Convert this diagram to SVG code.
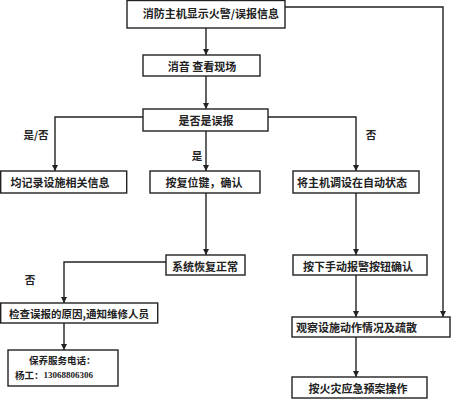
<svg xmlns="http://www.w3.org/2000/svg" width="452" height="400" viewBox="0 0 452 400">
<style>
rect.box{fill:#fff;stroke:#222;stroke-width:1.4}
text{font-family:"Noto Sans CJK SC","Liberation Sans",sans-serif;font-weight:bold;font-size:11px;fill:#222;dominant-baseline:central}
.c{text-anchor:middle}
.con path{fill:none;stroke:#222;stroke-width:1.4}
.lbl{font-size:10.5px}
</style>
<defs>
<marker id="ar" markerUnits="userSpaceOnUse" markerWidth="8" markerHeight="8" refX="6" refY="3" orient="auto">
<path d="M0,0 L6,3 L0,6 Z" fill="#222"/>
</marker>
</defs>
<rect width="452" height="400" fill="#fff"/>
<g class="con">
<path d="M206,28 V55" marker-end="url(#ar)"/>
<path d="M206,76 V109" marker-end="url(#ar)"/>
<path d="M206,131 V171" marker-end="url(#ar)"/>
<path d="M143,117 H55 V171" marker-end="url(#ar)"/>
<path d="M268,117 H356 V171" marker-end="url(#ar)"/>
<path d="M285,7 H443 V317" marker-end="url(#ar)"/>
<path d="M206,193 V255" marker-end="url(#ar)"/>
<path d="M356,193 V255" marker-end="url(#ar)"/>
<path d="M166,262 H64 V303" marker-end="url(#ar)"/>
<path d="M64,323 V350" marker-end="url(#ar)"/>
<path d="M356,275 V317" marker-end="url(#ar)"/>
<path d="M356,337 V377" marker-end="url(#ar)"/>
</g>
<g id="labels">
<text class="c lbl" x="36" y="134">是/否</text>
<text class="c lbl" x="371" y="134">否</text>
<text class="c lbl" x="197" y="155">是</text>
<text class="c lbl" x="30" y="279">否</text>
</g>
<g id="n1"><rect class="box" x="127" y="0.5" width="158" height="27.5"/><text class="c" x="211" y="13">消防主机显示火警/误报信息</text></g>
<g id="n2"><rect class="box" x="143" y="55" width="117" height="21"/><text class="c" x="202" y="65.5">消音 查看现场</text></g>
<g id="n3"><rect class="box" x="143" y="109" width="125" height="22"/><text class="c" x="206" y="120">是否是误报</text></g>
<g id="n4"><rect class="box" x="0.7" y="171" width="126" height="22"/><text class="c" x="60" y="182">均记录设施相关信息</text></g>
<g id="n5"><rect class="box" x="150" y="171" width="110" height="22"/><text class="c" x="204" y="182">按复位键，确认</text></g>
<g id="n6"><rect class="box" x="293" y="171" width="126" height="22"/><text class="c" x="352" y="182">将主机调设在自动状态</text></g>
<g id="n7"><rect class="box" x="166" y="255" width="79" height="20"/><text class="c" x="205" y="265.5">系统恢复正常</text></g>
<g id="n8"><rect class="box" x="293" y="255" width="134" height="20"/><text class="c" x="358" y="265.5">按下手动报警按钮确认</text></g>
<g id="n9"><rect class="box" x="0.7" y="303" width="157" height="20"/><text class="c" x="79" y="313" style="font-size:10.5px">检查误报的原因,通知维修人员</text></g>
<g id="n10"><rect class="box" x="8" y="350" width="110" height="36"/><text x="29" y="360" style="font-size:9.5px">保养服务电话：</text><text x="15" y="375" style="font-size:9.5px">杨工：<tspan style="font-family:'Liberation Serif',serif;font-size:9px">13068806306</tspan></text></g>
<g id="n11"><rect class="box" x="292" y="317" width="158" height="20"/><text x="296" y="327">观察设施动作情况及疏散</text></g>
<g id="n12"><rect class="box" x="292" y="377" width="135" height="21"/><text class="c" x="358" y="387.5">按火灾应急预案操作</text></g>
</svg>
